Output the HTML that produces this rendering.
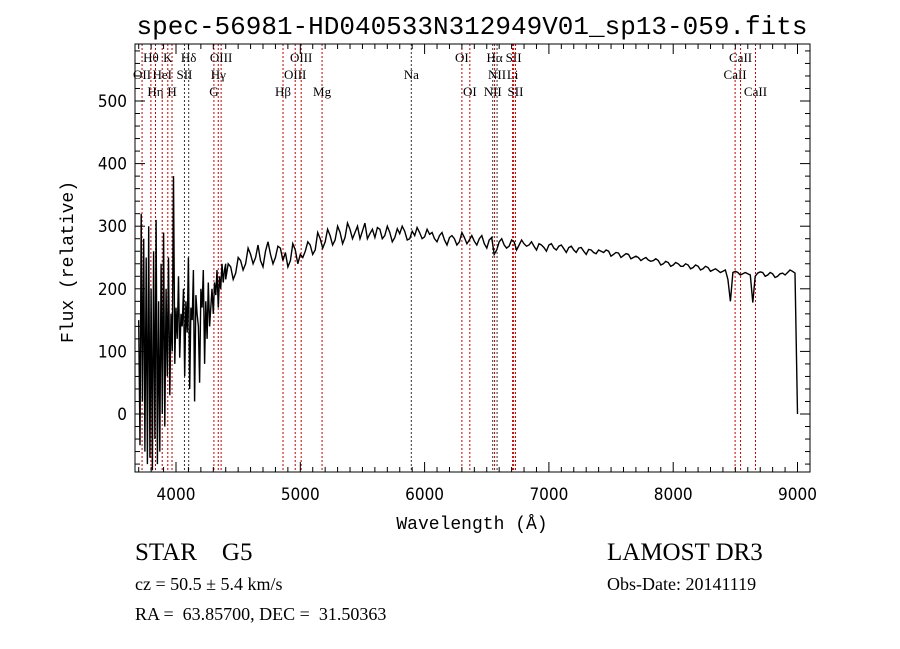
<!DOCTYPE html>
<html><head><meta charset="utf-8"><style>
body{margin:0;background:#fff;width:900px;height:649px;overflow:hidden}
svg{display:block}
text{font-family:"DejaVu Sans Condensed","Liberation Sans",sans-serif;fill:#000}
.lab{font-family:"Liberation Serif",serif;font-size:13px}
</style></head><body>
<svg id="chart" width="900" height="649">
<text x="472" y="34" text-anchor="middle" font-size="26" style="font-family:'Liberation Mono',monospace">spec-56981-HD040533N312949V01_sp13-059.fits</text>
<text x="73" y="262" text-anchor="middle" font-size="18" transform="rotate(-90 73 262)" style="font-family:'Liberation Mono',monospace">Flux (relative)</text>
<text x="472" y="529" text-anchor="middle" font-size="18" style="font-family:'Liberation Mono',monospace">Wavelength (Å)</text>
<text x="135" y="560" font-size="25" style="font-family:'Liberation Serif',serif" xml:space="preserve">STAR    G5</text>
<text x="135" y="590" font-size="18" style="font-family:'Liberation Serif',serif">cz = 50.5 ± 5.4 km/s</text>
<text x="135" y="620" font-size="18" style="font-family:'Liberation Serif',serif" xml:space="preserve">RA =  63.85700, DEC =  31.50363</text>
<text x="607" y="560" font-size="25" style="font-family:'Liberation Serif',serif">LAMOST DR3</text>
<text x="607" y="590" font-size="18" style="font-family:'Liberation Serif',serif">Obs-Date: 20141119</text>
</svg>
<script>
const xTicks=[4000,5000,6000,7000,8000,9000];
const yTicks=[0,100,200,300,400,500];
const blueStart=3700, blueStep=10;
const fluxBlue=[150,-50,320,20,280,-60,250,-80,300,-70,200,-90,260,-40,310,-80,180,-60,240,0,290,-20,200,60,250,30,160,100,380,80,170,120,220,90,160,140,200,60,180,130,250,40,170,150,230,20,190,160,140,50,200,170,230,80,180,120,210,140,170,200,160,210,190,230,170,220,200,240,210,230,240];
const redStart=4400, redStep=20;
const fluxRed=[215,240,235,215,225,250,245,230,240,265,255,240,250,270,245,235,260,275,255,240,250,268,265,245,258,235,245,272,262,240,255,
250,260,275,270,255,262,290,280,265,275,295,285,270,278,300,290,272,282,305,295,280,290,300,280,292,305,280,288,295,282,
298,295,280,285,300,290,275,282,296,288,300,292,278,280,292,285,298,290,280,283,295,287,290,280,275,285,290,278,270,282,
285,280,270,275,290,282,272,278,285,276,270,280,285,272,265,278,282,255,262,275,280,270,265,268,278,275,262,270,278,272,
268,270,275,268,262,272,270,266,260,270,272,265,262,268,270,264,258,266,268,262,258,265,266,260,255,263,262,258,256,262,
260,258,262,260,252,255,258,257,250,253,256,255,248,250,252,250,245,248,250,246,244,245,248,245,238,240,244,242,236,238,
242,240,236,236,240,238,232,234,238,236,230,232,236,234,228,230,232,229,226,228,230,215,180,226,228,226,222,224,226,224,
222,178,220,225,227,226,220,222,226,224,218,220,224,225,222,226,230,228,225,0];
const lineWaves=[3727,3798,3835,3889,3934,3968,4068,4102,4305,4340,4363,4861,4959,5007,5175,5893,6300,6364,6548,6563,6583,6708,6716,6731,8498,8542,8662];
const lineNames=["OII","Hθ","Hη","HeI","K","H","SII","Hδ","G","Hγ","OIII","Hβ","OIII","OIII","Mg","Na","OI","OI","NII","Hα","NII","Li","SII","SII","CaII","CaII","CaII"];
const lineRows=[1,0,2,1,0,2,1,0,2,1,0,2,1,0,2,1,0,2,2,0,1,1,0,2,1,0,2];
const lineBlack=[0,0,0,0,0,0,1,1,0,0,0,0,0,0,0,1,0,0,1,0,1,0,0,0,0,0,0];

const L=135,R=810,T=44,B=472;
const X=w=>176+(w-4000)*0.1243;
const Y=f=>414-f*0.626;
const NS="http://www.w3.org/2000/svg";
const svg=document.getElementById('chart');
function mk(t,a){const e=document.createElementNS(NS,t);for(const k in a)e.setAttribute(k,a[k]);svg.appendChild(e);return e;}

const clip=mk('clipPath',{id:'pc'});
const cr=document.createElementNS(NS,'rect');cr.setAttribute('x',L);cr.setAttribute('y',T);cr.setAttribute('width',R-L);cr.setAttribute('height',B-T);clip.appendChild(cr);

lineWaves.forEach((w,i)=>{
 const l=mk('line',{x1:X(w),x2:X(w),y1:T,y2:B,stroke:lineBlack[i]?'#333':'#c00000','stroke-width':1,'stroke-dasharray':'2,2'});
 
 
 const t=mk('text',{x:X(w),y:62+lineRows[i]*17,'text-anchor':'middle',class:'lab'});
 t.textContent=lineNames[i];
 
 
});

let pts=[];
fluxBlue.forEach((f,i)=>pts.push(X(blueStart+i*blueStep).toFixed(1)+','+Y(f).toFixed(1)));
fluxRed.forEach((f,i)=>pts.push(X(redStart+i*redStep).toFixed(1)+','+Y(f).toFixed(1)));
const sp=mk('polyline',{points:pts.join(' '),fill:'none',stroke:'#000','stroke-width':1.4,'clip-path':'url(#pc)'});



const fr=mk('rect',{x:L,y:T,width:R-L,height:B-T,fill:'none',stroke:'#000','stroke-width':1});



for(let w=3700;w<=9050;w+=100){const x=X(w);const big=w%1000===0;const h=big?10:5;
 mk('line',{x1:x,x2:x,y1:B,y2:B-h,stroke:'#000'});mk('line',{x1:x,x2:x,y1:T,y2:T+h,stroke:'#000'});}
for(let f=-80;f<=580;f+=20){const y=Y(f);const big=f%100===0;const h=big?10:5;
 mk('line',{x1:L,x2:L+h,y1:y,y2:y,stroke:'#000'});mk('line',{x1:R,x2:R-h,y1:y,y2:y,stroke:'#000'});}
xTicks.forEach(v=>{const t=mk('text',{x:X(v),y:500,'text-anchor':'middle','font-size':17});t.textContent=v;
 
 });
yTicks.forEach(v=>{const t=mk('text',{x:127,y:Y(v)+6,'text-anchor':'end','font-size':17});t.textContent=v;
 
 });
</script>
</body></html>
